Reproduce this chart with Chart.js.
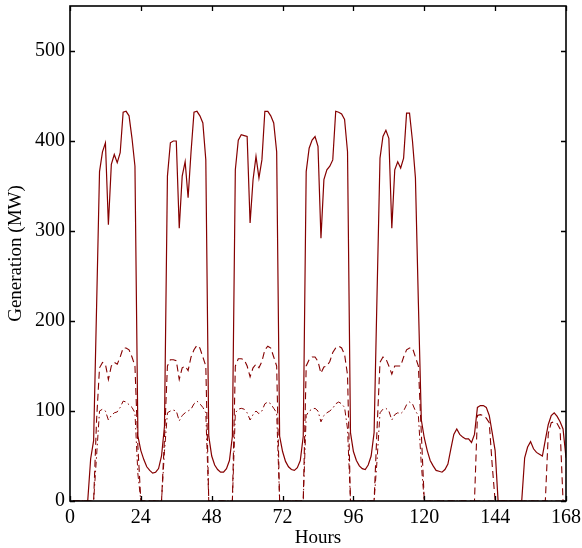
<!DOCTYPE html>
<html>
<head>
<meta charset="utf-8">
<script src="https://cdn.jsdelivr.net/npm/chart.js@4/dist/chart.umd.min.js"></script>
<style>
  html, body { margin: 0; padding: 0; background: #fff; }
  #wrap { width: 582px; height: 548px; }
</style>
</head>
<body>
<div id="wrap"><canvas id="genChart"></canvas></div>
<script>
// hourly values, hour 1 .. 168
var totalGen = [
    0, 0, 0, 0, 0, 0, 47, 67, 215, 366, 388, 398, 307, 374, 385, 376, 387, 432, 433, 428, 403, 372, 72, 56,
    46, 38, 34, 31, 32, 36, 50, 83, 361, 398, 400, 400, 303, 361, 377, 337, 388, 432, 433, 428, 420, 379, 72, 50,
    40, 35, 32, 32, 36, 45, 72, 368, 401, 407, 406, 405, 309, 357, 383, 359, 379, 433, 433, 428, 420, 388, 72, 55,
    44, 38, 35, 34, 37, 45, 72, 366, 392, 401, 405, 394, 292, 357, 368, 372, 379, 433, 432, 430, 424, 388, 76, 55,
    45, 39, 36, 35, 40, 50, 76, 230, 381, 405, 412, 403, 303, 368, 377, 370, 381, 431, 431, 400, 359, 220, 90, 70,
    56, 45, 39, 34, 33, 32, 35, 41, 58, 74, 80, 74, 71, 69, 69, 65, 74, 104, 106, 106, 104, 95, 76, 56,
    0, 0, 0, 0, 0, 0, 0, 0, 0, 48, 60, 66, 58, 54, 52, 50, 68, 85, 95, 98, 94, 88, 80, 48
];
var unitA = [
    0, 0, 0, 0, 0, 0, 0, 0, 90, 148, 154, 152, 135, 150, 154, 152, 160, 170, 170, 168, 160, 150, 60, 0,
    0, 0, 0, 0, 0, 0, 0, 70, 150, 157, 157, 156, 135, 148, 150, 145, 160, 168, 173, 170, 160, 150, 0, 0,
    0, 0, 0, 0, 0, 0, 0, 150, 158, 158, 157, 150, 138, 148, 152, 148, 155, 168, 172, 170, 160, 150, 0, 0,
    0, 0, 0, 0, 0, 0, 0, 150, 157, 160, 160, 155, 142, 149, 150, 155, 165, 170, 172, 170, 163, 140, 0, 0,
    0, 0, 0, 0, 0, 0, 0, 80, 154, 160, 158, 150, 141, 150, 150, 150, 160, 168, 170, 170, 160, 150, 75, 0,
    0, 0, 0, 0, 0, 0, 0, 0, 0, 0, 0, 0, 0, 0, 0, 0, 0, 95, 96, 95, 92, 87, 40, 0,
    0, 0, 0, 0, 0, 0, 0, 0, 0, 0, 0, 0, 0, 0, 0, 0, 0, 75, 87, 88, 86, 80, 0, 0
];
var unitB = [
    0, 0, 0, 0, 0, 0, 0, 0, 50, 100, 102, 100, 90, 95, 98, 99, 104, 111, 110, 107, 104, 98, 30, 0,
    0, 0, 0, 0, 0, 0, 0, 55, 98, 100, 101, 100, 89, 95, 98, 100, 102, 108, 111, 108, 104, 98, 0, 0,
    0, 0, 0, 0, 0, 0, 0, 98, 102, 103, 102, 98, 90, 96, 100, 97, 100, 108, 110, 108, 103, 98, 0, 0,
    0, 0, 0, 0, 0, 0, 0, 95, 100, 102, 103, 100, 88, 95, 98, 100, 103, 108, 110, 108, 104, 80, 0, 0,
    0, 0, 0, 0, 0, 0, 0, 45, 98, 102, 103, 100, 90, 96, 98, 97, 100, 107, 110, 108, 100, 95, 40, 0,
    0, 0, 0, 0, 0, 0, 0, 0, 0, 0, 0, 0, 0, 0, 0, 0, 0, 0, 0, 0, 0, 0, 0, 0,
    0, 0, 0, 0, 0, 0, 0, 0, 0, 0, 0, 0, 0, 0, 0, 0, 0, 0, 0, 0, 0, 0, 0, 0
];
var xTicks = [0, 24, 48, 72, 96, 120, 144, 168];
var yTicks = [0, 100, 200, 300, 400, 500];

var lineColor = '#850000';

// turn an hourly list into {x, y} points, first value is hour 1
function toPoints(values) {
    return values.map(function (v, i) {
        return { x: i + 1, y: v };
    });
}

// MATLAB style box with ticks pointing inwards on all four sides
var boxPlugin = {
    id: 'boxPlugin',
    afterDatasetsDraw: function (chart) {
        var ctx = chart.ctx;
        var area = chart.chartArea;
        var xs = chart.scales.x;
        var ys = chart.scales.y;
        var len = 5;
        ctx.save();
        ctx.strokeStyle = '#000';
        ctx.lineWidth = 1.3;
        ctx.beginPath();
        xTicks.forEach(function (t) {
            var px = Math.round(xs.getPixelForValue(t)) + 0.5;
            ctx.moveTo(px, area.bottom);
            ctx.lineTo(px, area.bottom - len);
            ctx.moveTo(px, area.top);
            ctx.lineTo(px, area.top + len);
        });
        yTicks.forEach(function (t) {
            var py = Math.round(ys.getPixelForValue(t)) + 0.5;
            ctx.moveTo(area.left, py);
            ctx.lineTo(area.left + len, py);
            ctx.moveTo(area.right, py);
            ctx.lineTo(area.right - len, py);
        });
        ctx.stroke();
        ctx.lineWidth = 1.6;
        ctx.strokeRect(area.left, area.top, area.right - area.left, area.bottom - area.top);
        ctx.restore();
    }
};

var serif = "'Liberation Serif', 'Times New Roman', serif";

var ctx = document.getElementById('genChart').getContext('2d');
var config = {
    type: 'scatter',
    data: {
        datasets: [
            {
                data: toPoints(unitB),
                borderColor: lineColor,
                borderWidth: 1,
                borderDash: [6, 3, 1.5, 3],
                showLine: true,
                pointRadius: 0,
                tension: 0
            },
            {
                data: toPoints(unitA),
                borderColor: lineColor,
                borderWidth: 1.1,
                borderDash: [7, 4],
                showLine: true,
                pointRadius: 0,
                tension: 0
            },
            {
                data: toPoints(totalGen),
                borderColor: lineColor,
                borderWidth: 1.2,
                showLine: true,
                pointRadius: 0,
                tension: 0
            }
        ]
    },
    options: {
        responsive: true,
        maintainAspectRatio: false,
        animation: false,
        layout: { padding: { top: 6, right: 16, bottom: 0, left: 0 } },
        plugins: {
            legend: { display: false },
            tooltip: { enabled: false }
        },
        scales: {
            x: {
                type: 'linear',
                min: 0,
                max: 168,
                afterBuildTicks: function (axis) {
                    axis.ticks = xTicks.map(function (v) { return { value: v }; });
                },
                afterFit: function (axis) {
                    // fixed box, no extra room for the end labels
                    axis.height = 47;
                    axis.paddingLeft = 0;
                    axis.paddingRight = 0;
                },
                grid: { display: false, drawTicks: false },
                border: { display: false },
                ticks: {
                    color: '#000',
                    padding: 5,
                    maxRotation: 0,
                    font: { family: serif, size: 20 }
                },
                title: {
                    display: true,
                    text: 'Hours',
                    color: '#000',
                    padding: { top: 0, bottom: 0 },
                    font: { family: serif, size: 19, lineHeight: 1 }
                }
            },
            y: {
                type: 'linear',
                min: 0,
                max: 550,
                afterBuildTicks: function (axis) {
                    axis.ticks = yTicks.map(function (v) { return { value: v }; });
                },
                afterFit: function (axis) {
                    axis.width = 70;
                    axis.paddingTop = 0;
                    axis.paddingBottom = 0;
                },
                grid: { display: false, drawTicks: false },
                border: { display: false },
                ticks: {
                    color: '#000',
                    padding: 5,
                    font: { family: serif, size: 20 }
                },
                title: {
                    display: true,
                    text: 'Generation (MW)',
                    color: '#000',
                    padding: { top: 5, bottom: 0 },
                    font: { family: serif, size: 19, lineHeight: 1.2 }
                }
            }
        }
    },
    plugins: [boxPlugin]
};

var genChart = new Chart(ctx, config);
</script>
</body>
</html>
